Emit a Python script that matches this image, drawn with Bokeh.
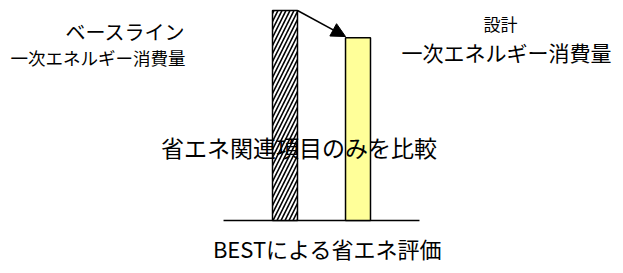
from bokeh.plotting import figure
from bokeh.models import Range1d, Arrow, NormalHead, Label
from bokeh.embed import file_html
from bokeh.resources import INLINE

# data
categories = ["ベースライン", "設計"]
positions = [1, 2]
values = [100, 87]
fills = ["white", "#FFFF99"]

FONT = "Noto Sans CJK JP"

p = figure(width=615, height=265, output_backend="svg", toolbar_location=None,
           x_range=Range1d(-2.897, 5.527), y_range=Range1d(-21.43, 104.76),
           min_border=0, outline_line_color=None)
p.axis.visible = False
p.grid.visible = False
p.background_fill_color = "white"
p.border_fill_color = "white"

# ground line
p.line(x=[0.158, 2.842], y=[0, 0], line_color="black", line_width=1.5)

bw = 0.342
p.vbar(x=[positions[0]], top=[values[0]], width=bw, bottom=0,
       fill_color=fills[0], line_color="black", line_width=1.5,
       hatch_pattern="/", hatch_color="black", hatch_scale=8, hatch_weight=1.6)
p.vbar(x=[positions[1]], top=[values[1]], width=bw, bottom=0,
       fill_color=fills[1], line_color="black", line_width=1.5)

p.add_layout(Arrow(end=NormalHead(size=14, fill_color="black", line_color="black"),
                   x_start=positions[0] + bw / 2, y_start=values[0],
                   x_end=positions[1] - bw / 2, y_end=values[1] + 0.6,
                   line_color="black", line_width=1.5))

def lab(txt, x, y, size):
    p.add_layout(Label(x=x, y=y, text=txt, text_font=FONT, text_font_size=size,
                       text_align="center", text_baseline="middle", text_color="black"))

lab(categories[0], -1.185, 90, "20px")
lab("一次エネルギー消費量", -1.562, 77.6, "17.5px")
lab(categories[1], 3.952, 93.8, "17px")
lab("一次エネルギー消費量", 4.034, 80, "21px")
lab("省エネ関連項目のみを比較", 1.192, 34.8, "23px")
lab("BESTによる省エネ評価", 1.582, -12.86, "22px")

open("out.html", "w").write(file_html(p, INLINE))
